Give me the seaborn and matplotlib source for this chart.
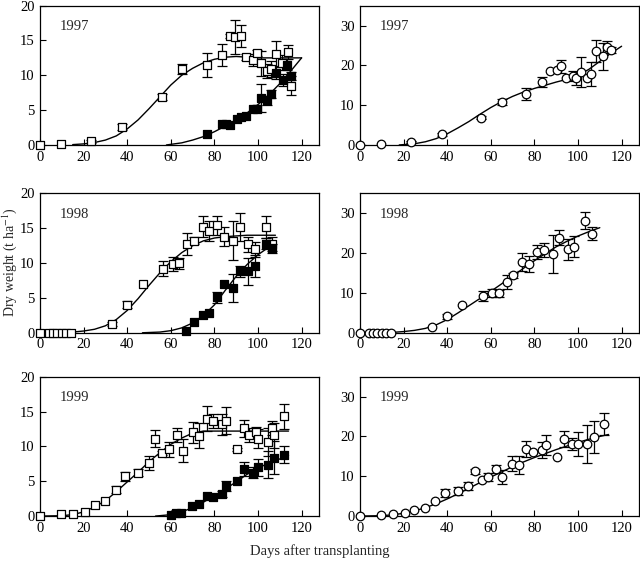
import numpy as np
import pandas as pd
import matplotlib
matplotlib.use("Agg")
import matplotlib.pyplot as plt
import seaborn as sns

# ---- 1997 ----
y97_open_x = [0, 9.6, 23.5, 37.5, 55.9, 65.3, 76.5, 83.4, 87.3, 89.6, 92.3, 94.7, 97.6, 99.6,
              101.5, 103.9, 105.8, 108.4, 110.9, 113.9, 115.2]
y97_open_y = [0, 0.15, 0.5, 2.6, 6.9, 10.9, 11.5, 12.9, 15.6, 15.5, 15.6, 12.6, 12.2, 13.2,
              11.7, 10.6, 10.9, 13.1, 11.8, 13.3, 8.5]
y97_open_e = [0, 0, 0.2, 0.4, 0.4, 0.7, 1.7, 1.6, 0.3, 2.4, 1.6, 0.4, 0.9, 0.5,
              1.8, 1.0, 1.2, 1.8, 1.1, 1.0, 1.4]
y97_fill_x = [76.5, 83.4, 85.4, 87.3, 90.4, 92.2, 94.7, 97.6, 99.6, 101.3, 104.3, 106.0,
              108.4, 111.5, 113.5, 115.2]
y97_fill_y = [1.5, 2.95, 2.95, 2.9, 3.7, 4.0, 4.1, 5.1, 5.2, 6.8, 6.4, 7.3, 10.3, 9.3, 11.5, 9.9]
y97_fill_e = [0, 0, 0, 0, 0, 0, 0, 0, 0.5, 2.0, 0.6, 0.6, 0.9, 0.9, 0.8, 0.6]
y97_fit_open_x = [15, 20, 25, 30, 35, 40, 45, 50, 55, 60, 65, 70, 75, 80, 85, 90, 95, 100, 110, 120]
y97_fit_open_y = [0.05, 0.15, 0.35, 0.7, 1.3, 2.3, 3.6, 5.2, 6.9, 8.6, 10.0, 11.0, 11.8, 12.3,
                  12.6, 12.7, 12.6, 12.5, 12.5, 12.5]
y97_fit_fill_x = [58, 65, 70, 75, 80, 85, 90, 95, 100, 105, 110, 115, 120]
y97_fit_fill_y = [0.0, 0.3, 0.7, 1.2, 1.9, 2.7, 3.6, 4.6, 5.8, 7.2, 8.8, 10.6, 12.5]
y97_tot_x = [0, 9.6, 23.5, 37.5, 55.6, 65.3, 76.3, 83.4, 87.3, 90.4, 92.2, 94.7, 97.6, 99.3,
             101.3, 104.3, 106.0, 108.4, 111.5, 113.2, 115.1]
y97_tot_y = [0, 0.25, 0.7, 2.7, 6.8, 10.8, 12.7, 15.8, 18.6, 18.9, 19.75, 16.7, 17.25, 16.7,
             18.3, 16.7, 17.9, 23.6, 22.25, 24.6, 23.9]
y97_tot_e = [0, 0, 0.3, 0.4, 0.4, 0.8, 1.5, 1.2, 0, 0, 1.7, 0, 1.3, 1.6,
             3.8, 0, 3.0, 2.8, 3.3, 1.6, 0.8]
y97_fit_tot_x = [18, 25, 30, 35, 40, 45, 50, 55, 60, 65, 70, 75, 80, 85, 90, 95, 100, 105, 110, 115, 120]
y97_fit_tot_y = [0, 0.3, 0.8, 1.6, 2.8, 4.3, 5.9, 7.7, 9.4, 10.9, 12.2, 13.3, 14.2, 15.0,
                 15.8, 16.5, 17.5, 19.0, 21.0, 23.0, 24.8]

# ---- 1998 ----
y98_open_x = [0, 4, 6, 8, 10, 12, 14, 33, 40, 47.1, 56.4, 61, 63.8, 67.5, 70.6, 74.6, 77.7,
              81.4, 84.5, 88.7, 91.8, 95.3, 98.5, 103.5, 106.4]
y98_open_y = [0, 0, 0, 0, 0, 0, 0, 1.2, 4.0, 7.0, 9.2, 9.9, 10.0, 12.7, 13.2, 15.2, 14.6,
              15.4, 13.8, 13.2, 15.2, 12.7, 12.0, 15.2, 12.8]
y98_open_e = [0, 0, 0, 0, 0, 0, 0, 0.3, 0.5, 0, 1.1, 1.0, 0.8, 1.6, 0.5, 1.5, 1.4,
              1.4, 1.4, 2.8, 2.0, 1.1, 1.1, 1.6, 1.0]
y98_fill_x = [67.2, 70.6, 74.6, 77.7, 81.4, 84.5, 88.7, 91.8, 95.3, 98.5, 103.5, 106.4]
y98_fill_y = [0.2, 1.6, 2.5, 2.8, 5.1, 7.0, 6.4, 8.8, 8.8, 9.6, 12.8, 12.1]
y98_fill_e = [0, 0, 0, 0, 0.8, 0, 2.0, 0.8, 2.0, 1.6, 0.8, 0.6]
y98_fit_open_x = [15, 20, 25, 30, 35, 40, 45, 50, 55, 60, 65, 70, 75, 80, 85, 90, 95, 100, 108]
y98_fit_open_y = [0.1, 0.25, 0.5, 1.0, 1.9, 3.2, 4.9, 6.8, 8.6, 10.2, 11.5, 12.5, 13.2, 13.6,
                  13.8, 13.9, 14.0, 14.0, 14.0]
y98_fit_fill_x = [47, 55, 60, 65, 70, 75, 80, 85, 90, 95, 100, 105, 108]
y98_fit_fill_y = [0, 0.1, 0.3, 0.7, 1.4, 2.5, 4.0, 6.1, 8.1, 9.8, 11.2, 12.3, 12.9]
y98_tot_x = [0, 4, 6, 8, 10, 12, 14, 32.9, 39.9, 46.7, 56.5, 60.6, 63.6, 67.5, 70.1, 74.5, 77.5,
             81.1, 84.2, 88.5, 91.4, 95.3, 98.1, 103.2, 106.3]
y98_tot_y = [0, 0, 0, 0, 0, 0, 0, 1.4, 4.1, 7.0, 9.25, 10.0, 9.9, 12.8, 14.4, 17.75, 17.3,
             20.3, 20.75, 19.7, 23.9, 21.0, 21.6, 28.2, 24.9]
y98_tot_e = [0, 0, 0, 0, 0, 0, 0, 0, 0.7, 0, 1.2, 0.9, 0.9, 1.7, 0.7, 2.2, 2.0,
             1.7, 1.8, 4.8, 1.8, 2.6, 2.6, 2.2, 1.6]
y98_fit_tot_x = [15, 20, 25, 30, 35, 40, 45, 50, 55, 60, 65, 70, 75, 80, 85, 90, 95, 100, 105, 110]
y98_fit_tot_y = [0.1, 0.3, 0.6, 1.1, 2.0, 3.3, 5.0, 6.8, 8.6, 10.4, 12.3, 14.2, 16.2, 18.1,
                 19.9, 21.6, 23.0, 24.3, 25.4, 26.4]

# ---- 1999 ----
y99_open_x = [0, 9.7, 15.1, 20.7, 25, 29.8, 34.8, 39, 44.8, 49.9, 52.8, 55.9, 59, 62.7, 65.6,
              70, 73.1, 76.5, 79.5, 83.4, 85.4, 90.4, 93.8, 95.8, 99.2, 100.1, 104.6, 106.3,
              107.5, 112]
y99_open_y = [0, 0.3, 0.3, 0.6, 1.6, 2.2, 3.8, 5.7, 6.2, 7.6, 11.1, 9.0, 9.6, 11.7, 9.4,
              12.0, 11.5, 14.0, 13.6, 13.2, 13.7, 9.6, 12.6, 11.6, 12.0, 11.1, 10.6, 12.6,
              11.6, 14.3]
y99_open_e = [0, 0, 0, 0, 0, 0, 0.5, 0.6, 0.5, 1.0, 1.2, 0.3, 1.1, 1.0, 1.6,
              1.5, 1.8, 1.8, 1.0, 1.5, 1.9, 0.2, 1.2, 1.0, 0.8, 1.4, 2.0, 1.0,
              1.8, 1.8]
y99_fill_x = [60, 62.6, 64.9, 69.8, 72.9, 76.5, 79.5, 83.4, 85.4, 90.4, 93.8, 97.6, 100.1,
              104.6, 107.4, 112]
y99_fill_y = [0.2, 0.4, 0.4, 1.4, 1.7, 2.9, 2.7, 3.2, 4.3, 5.1, 6.8, 6.2, 7.0, 7.4, 8.4, 8.8]
y99_fill_e = [0, 0, 0, 0, 0, 0, 0, 0.4, 0.7, 0, 1.0, 0.8, 1.2, 2.0, 2.4, 1.2]
y99_fit_open_x = [0, 10, 15, 20, 25, 30, 35, 40, 45, 50, 55, 60, 65, 70, 75, 80, 90, 100, 114]
y99_fit_open_y = [0, 0.05, 0.2, 0.6, 1.3, 2.2, 3.5, 4.9, 6.3, 7.8, 9.1, 10.3, 11.2, 11.9,
                  12.2, 12.2, 12.2, 12.2, 12.2]
y99_fit_fill_x = [53, 60, 65, 70, 75, 80, 85, 90, 95, 100, 105, 110, 114]
y99_fit_fill_y = [0, 0.2, 0.6, 1.2, 2.0, 2.9, 3.9, 4.9, 6.0, 6.9, 7.6, 8.2, 8.7]
y99_tot_x = [0, 9.7, 15.1, 20.5, 24.9, 29.7, 34.4, 38.9, 44.8, 49.6, 52.8, 55.8, 58.7, 62.2,
             65.3, 69.8, 72.8, 76.1, 79.2, 83.4, 85.4, 90.4, 93.5, 97.3, 99.8, 104.3, 107.4, 111.7]
y99_tot_y = [0, 0.2, 0.4, 0.8, 1.5, 2.1, 3.75, 5.7, 6.3, 7.6, 11.2, 9.0, 9.7, 11.9,
             9.8, 13.2, 12.75, 16.8, 16.2, 16.5, 17.75, 14.8, 19.4, 18.2, 18.0, 18.1, 19.8, 23.2]
y99_tot_e = [0, 0, 0, 0, 0, 0, 0, 1.0, 1.0, 1.0, 0.7, 0, 1.0, 1.0,
             1.8, 2.0, 2.3, 2.0, 0, 2.0, 2.5, 0, 2.0, 1.5, 3.0, 4.8, 4.0, 2.8]
y99_fit_tot_x = [0, 10, 15, 20, 25, 30, 35, 40, 45, 50, 55, 60, 65, 70, 75, 80, 85, 90, 95,
                 100, 105, 110, 114]
y99_fit_tot_y = [0, 0.1, 0.3, 0.7, 1.3, 2.1, 3.1, 4.3, 5.6, 7.0, 8.4, 9.8, 11.1, 12.4, 13.6,
                 14.7, 15.7, 16.7, 17.6, 18.5, 19.3, 20.0, 20.5]

years = ["1997", "1998", "1999"]
left_sets = [
    (y97_open_x, y97_open_y, y97_open_e, y97_fill_x, y97_fill_y, y97_fill_e,
     y97_fit_open_x, y97_fit_open_y, y97_fit_fill_x, y97_fit_fill_y),
    (y98_open_x, y98_open_y, y98_open_e, y98_fill_x, y98_fill_y, y98_fill_e,
     y98_fit_open_x, y98_fit_open_y, y98_fit_fill_x, y98_fit_fill_y),
    (y99_open_x, y99_open_y, y99_open_e, y99_fill_x, y99_fill_y, y99_fill_e,
     y99_fit_open_x, y99_fit_open_y, y99_fit_fill_x, y99_fit_fill_y),
]
right_sets = [
    (y97_tot_x, y97_tot_y, y97_tot_e, y97_fit_tot_x, y97_fit_tot_y),
    (y98_tot_x, y98_tot_y, y98_tot_e, y98_fit_tot_x, y98_fit_tot_y),
    (y99_tot_x, y99_tot_y, y99_tot_e, y99_fit_tot_x, y99_fit_tot_y),
]

sns.set_theme(style="ticks")
plt.rcParams["font.family"] = ["Liberation Serif", "DejaVu Serif"]
plt.rcParams["mathtext.fontset"] = "stix"
plt.rcParams["xtick.direction"] = "in"
plt.rcParams["ytick.direction"] = "in"

fig = plt.figure(figsize=(6.4, 5.64), dpi=100)

row_bottoms = [0.743, 0.41, 0.085]
ax_h = 0.247
ax_w = 0.436


def draw_points(ax, x, y, e, face, marker):
    d = pd.DataFrame({"x": x, "y": y, "e": e})
    de = d[d["e"] > 0]
    ax.errorbar(de["x"], de["y"], yerr=de["e"], fmt="none", ecolor="black",
                elinewidth=0.9, capsize=3.5, capthick=0.9, zorder=2)
    sns.scatterplot(data=d, x="x", y="y", ax=ax, marker=marker, s=38,
                    facecolor=face, edgecolor="black", linewidth=0.9, zorder=4,
                    clip_on=False)


def draw_fit(ax, x, y):
    d = pd.DataFrame({"x": x, "y": y})
    sns.lineplot(data=d, x="x", y="y", ax=ax, color="black", linewidth=1.0,
                 sort=False, estimator=None, zorder=3)


def style_axes(ax, ymax, yticks, year):
    ax.set_xlim(0, 128)
    ax.set_ylim(0, ymax)
    ax.set_xticks([0, 20, 40, 60, 80, 100, 120])
    ax.set_yticks(yticks)
    ax.set_xlabel("")
    ax.set_ylabel("")
    ax.tick_params(labelsize=10.5, length=4, width=0.8, pad=4, colors="black")
    for sp in ax.spines.values():
        sp.set_color("black")
        sp.set_linewidth(0.9)
    ax.text(0.07, 0.85, year, transform=ax.transAxes, fontsize=10.5,
            va="center", ha="left")


for i, year in enumerate(years):
    ax = fig.add_axes([0.0625, row_bottoms[i], ax_w, ax_h])
    ox, oy, oe, fx, fy, fe, fox, foy, ffx, ffy = left_sets[i]
    draw_fit(ax, fox, foy)
    draw_fit(ax, ffx, ffy)
    draw_points(ax, ox, oy, oe, "white", "s")
    draw_points(ax, fx, fy, fe, "black", "s")
    style_axes(ax, 20, [0, 5, 10, 15, 20], year)

    ax = fig.add_axes([0.5625, row_bottoms[i], ax_w, ax_h])
    tx, ty, te, ftx, fty = right_sets[i]
    draw_fit(ax, ftx, fty)
    draw_points(ax, tx, ty, te, "white", "o")
    style_axes(ax, 35, [0, 10, 20, 30], year)

fig.text(0.5, 0.022, "Days after transplanting", ha="center", va="center", fontsize=10.5)
fig.text(0.0145, 0.535, r"Dry weight (t ha$^{-1}$)", ha="center", va="center",
         rotation=90, fontsize=10)

fig.savefig("out.png", dpi=100)
